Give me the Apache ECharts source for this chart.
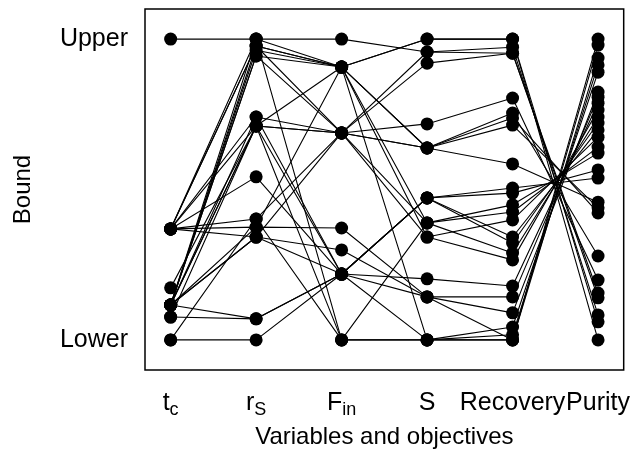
<!DOCTYPE html>
<html><head><meta charset="utf-8">
<script src="https://cdn.jsdelivr.net/npm/echarts@6/dist/echarts.min.js"></script>
<style>html,body{margin:0;padding:0;background:#fff}#c{width:633px;height:454px}</style>
</head><body><div id="c"></div>
<script>
// Variables and objectives (x categories)
const categories = ['t_c', 'r_S', 'F_in', 'S', 'Recovery', 'Purity'];
// Bound tick labels (0 = Lower, 1 = Upper)
const boundLabels = ['Lower', 'Upper'];
// normalized values of each solution, one array per variable/objective
const tc  = [1.0, 0.369, 0.369, 0.116, 0.116, 0.369, 0.369, 0.116, 0.369, 0.173, 0.369, 0.116, 0.116, 0.369, 0.116, 0.076, 0.116, 0.0, 0.369, 0.116, 0.116, 0.0, 0.076, 0.116, 0.116, 0.369, 0.116];
const rS  = [1.0, 1.0, 0.977, 0.977, 0.944, 0.741, 0.977, 0.944, 0.711, 0.711, 0.542, 0.342, 0.711, 0.402, 0.375, 0.711, 0.741, 0.402, 0.342, 0.07, 0.342, 0.0, 0.07, 1.0, 0.711, 0.375, 0.963];
const Fin = [1.0, 0.907, 0.907, 0.688, 0.688, 0.688, 0.907, 0.907, 0.688, 0.688, 0.219, 0.219, 0.907, 0.688, 0.907, 0.219, 0.219, 0.0, 0.688, 0.219, 0.299, 0.219, 0.219, 0.0, 0.0, 0.372, 0.907];
const S   = [0.957, 1.0, 1.0, 0.957, 0.920, 0.718, 0.638, 0.638, 0.638, 0.638, 0.472, 0.472, 0.389, 0.389, 0.342, 0.472, 0.472, 0.389, 0.342, 0.203, 0.143, 0.143, 0.0, 0.0, 0.0, 0.143, 0.0];
const Rec = [0.973, 1.0, 1.0, 0.953, 0.953, 0.804, 0.754, 0.738, 0.714, 0.585, 0.505, 0.488, 0.449, 0.425, 0.399, 0.342, 0.322, 0.289, 0.266, 0.179, 0.143, 0.090, 0.043, 0.017, 0.0, 0.0, 0.0];
const Pur = [0.083, 0.0, 0.06, 0.140, 0.156, 0.199, 0.279, 0.422, 0.439, 0.458, 0.538, 0.565, 0.621, 0.641, 0.674, 0.698, 0.721, 0.741, 0.764, 0.787, 0.807, 0.824, 0.890, 0.914, 0.937, 0.98, 1.0];

const cols = [tc, rS, Fin, S, Rec, Pur];
const FONT = 'Liberation Sans';
const lineSeries = tc.map((_, i) => ({
  type: 'line', symbol: 'none', silent: true, animation: false,
  lineStyle: { color: '#000', width: 1.1 },
  data: cols.map((c, j) => [j, c[i]]), z: 2
}));
const pts = [];
cols.forEach((c, j) => c.forEach(v => pts.push([j, v])));

const labelFmt = {
  't_c': '{m|t}{s|c}', 'r_S': '{m|r}{s|S}', 'F_in': '{m|F}{s|in}',
  'S': '{m|S}', 'Recovery': '{m|Recovery}', 'Purity': '{m|Purity}'
};
const xCustom = categories.map((_, i) => i);
const chart = echarts.init(document.getElementById('c'));
chart.setOption({
  animation: false,
  grid: { left: 145, right: 9, top: 9, bottom: 84, show: true, borderColor: '#000', borderWidth: 1.5 },
  xAxis: [{
    type: 'value', min: -0.3, max: 5.3, position: 'bottom',
    name: 'Variables and objectives', nameLocation: 'middle', nameGap: 55,
    nameTextStyle: { fontFamily: FONT, fontSize: 24, color: '#000' },
    axisLine: { show: false }, splitLine: { show: false },
    axisTick: { inside: true, length: 6, customValues: xCustom, lineStyle: { color: '#777', width: 1 } },
    axisLabel: {
      customValues: xCustom, margin: 21,
      formatter: v => labelFmt[categories[Math.round(v)]],
      rich: {
        m: { fontFamily: FONT, fontSize: 25, color: '#000', verticalAlign: 'top', lineHeight: 28 },
        s: { fontFamily: FONT, fontSize: 18, color: '#000', verticalAlign: 'bottom', lineHeight: 18, padding: [15, 0, 0, 0] }
      }
    }
  }, {
    type: 'value', min: -0.3, max: 5.3, position: 'top',
    axisLine: { show: false }, splitLine: { show: false }, axisLabel: { show: false },
    axisTick: { inside: true, length: 6, customValues: xCustom, lineStyle: { color: '#777', width: 1 } }
  }],
  yAxis: [{
    type: 'value', min: -0.1, max: 1.1, position: 'left',
    name: 'Bound', nameLocation: 'middle', nameGap: 110,
    nameTextStyle: { fontFamily: FONT, fontSize: 24, color: '#000' },
    axisLine: { show: false }, splitLine: { show: false },
    axisTick: { inside: true, length: 6, customValues: [0, 1], lineStyle: { color: '#777', width: 1 } },
    axisLabel: { customValues: [0, 1], margin: 17, formatter: v => boundLabels[Math.round(v)],
      fontFamily: FONT, fontSize: 25, color: '#000' }
  }, {
    type: 'value', min: -0.1, max: 1.1, position: 'right',
    axisLine: { show: false }, splitLine: { show: false }, axisLabel: { show: false },
    axisTick: { inside: true, length: 6, customValues: [0, 1], lineStyle: { color: '#777', width: 1 } }
  }],
  series: lineSeries.concat([{
    type: 'scatter', symbol: 'circle', symbolSize: 13, silent: true,
    itemStyle: { color: '#000', opacity: 1 }, data: pts, z: 5
  }])
});
</script></body></html>
